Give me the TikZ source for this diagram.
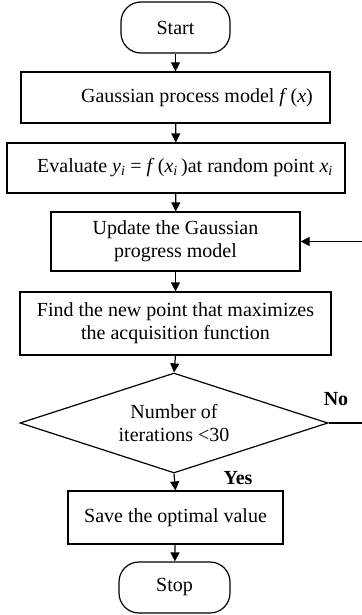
\documentclass[tikz,border=0pt]{standalone}
\usepackage{fontspec}
\setmainfont{Liberation Serif}
\usepackage{tikz}
\usetikzlibrary{arrows.meta,shapes.geometric}

\begin{document}
\begin{tikzpicture}[x=1pt,y=-1pt]
  \tikzset{TerminalStyle/.style = {
    shape         = rectangle,
    draw          = black,
    rounded corners = 20pt,
    line width    = 1.2pt,
    text          = black,
    inner sep     = 0pt,
    minimum width = 109pt,
    minimum height= 51pt,
    font          = \fontsize{20}{23}\selectfont
    }
  }
  \tikzset{ProcessStyle/.style = {
    shape         = rectangle,
    draw          = black,
    line width    = 1.2pt,
    text          = black,
    align         = center,
    inner sep     = 0pt,
    font          = \fontsize{20}{23}\selectfont
    }
  }
  \tikzset{DecisionStyle/.style = {
    shape         = diamond,
    draw          = black,
    line width    = 1.2pt,
    text          = black,
    align         = center,
    inner sep     = 0pt,
    shape aspect  = 3,
    minimum width = 308pt,
    minimum height= 100pt,
    font          = \fontsize{20}{23}\selectfont
    }
  }
  \tikzset{EdgeStyle/.style = {
    draw          = black,
    line width    = 1.2pt,
    -{Triangle[length=9pt,width=9pt]}
    }
  }
  \tikzset{LabelStyle/.style = {
    text          = black,
    inner sep     = 0pt,
    font          = \fontsize{20}{23}\selectfont\bfseries
    }
  }

  \useasboundingbox (0, 0) rectangle (361, 615);

	\node[TerminalStyle](S1) at (175.5, 27.5) {Start};
	\node[ProcessStyle, minimum width=309pt, minimum height=51pt](P1) at (175.5, 97.5)
	  {\hspace*{43pt}Gaussian process model \textit{f}\,(\textit{x})};
	\node[ProcessStyle, minimum width=338pt, minimum height=50pt](P2) at (176, 168)
	  {\hspace*{18pt}Evaluate \textit{y}\textsubscript{\textit{i}} = \textit{f}\,(\textit{x}\textsubscript{\textit{i}}\,)at random point \textit{x}\textsubscript{\textit{i}}};
	\node[ProcessStyle, minimum width=249pt, minimum height=59pt](P3) at (175.5, 241.5)
	  {Update the Gaussian\\progress model};
	\node[ProcessStyle, minimum width=311pt, minimum height=63pt](P4) at (175.5, 323.5)
	  {Find the new point that maximizes\\the acquisition function};
	\node[DecisionStyle](D1) at (174, 423) {Number of\\iterations <30};
	\node[ProcessStyle, minimum width=215pt, minimum height=53pt](P5) at (175.5, 517.5)
	  {Save the optimal value};
	\node[TerminalStyle, minimum width=111pt](S2) at (174.5, 587.5) {Stop};

	\draw[EdgeStyle](S1) to (P1);
	\draw[EdgeStyle](P1) to (P2);
	\draw[EdgeStyle](P2) to (P3);
	\draw[EdgeStyle](P3) to (P4);
	\draw[EdgeStyle](P4.south) to (D1.north);
	\draw[EdgeStyle](D1.south) to (P5.north);
	\draw[EdgeStyle](P5) to (S2);
	\draw[EdgeStyle](D1.east) -- ++(34, 0) |- (P3.east);

	\node[LabelStyle](n0) at (336, 399) {No};
	\node[LabelStyle](n1) at (238, 478) {Yes};

\end{tikzpicture}
\end{document}
